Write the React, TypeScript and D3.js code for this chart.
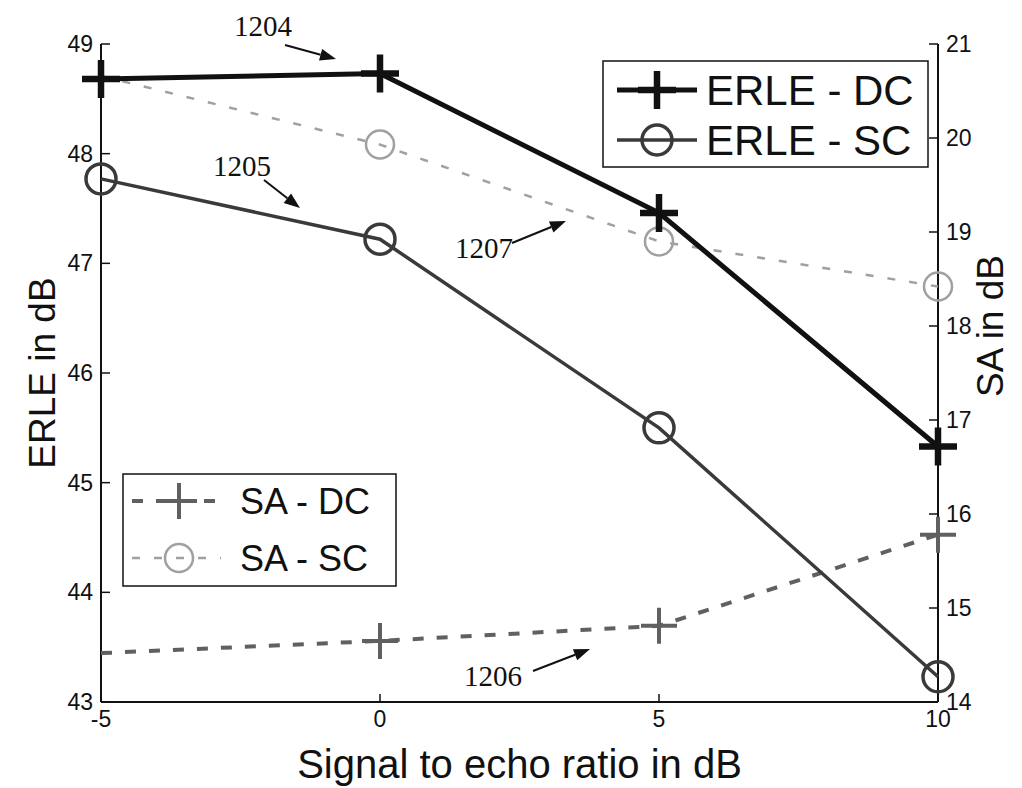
import React from 'react';
import * as d3 from 'd3';

// signal to echo ratio (dB)
const snr = [-5, 0, 5, 10];
// left axis series (ERLE, dB)
const erleDC = [48.68, 48.73, 47.46, 45.33];
const erleSC = [47.77, 47.22, 45.5, 43.23];
// right axis series (SA, dB)
const saDC = [14.52, 14.65, 14.81, 15.78];
const saSC = [20.66, 19.93, 18.9, 18.42];

const xTicks = [-5, 0, 5, 10];
const leftTicks = [43, 44, 45, 46, 47, 48, 49];
const rightTicks = [14, 15, 16, 17, 18, 19, 20, 21];

const W = 1022;
const H = 788;
const plot = { left: 101, right: 938, top: 44, bottom: 702 };

const x = d3.scaleLinear().domain([-5, 10]).range([plot.left, plot.right]);
const yL = d3.scaleLinear().domain([43, 49]).range([plot.bottom, plot.top]);
const yR = d3.scaleLinear().domain([14, 21]).range([plot.bottom, plot.top]);

const sans = "'Liberation Sans', Arial, Helvetica, sans-serif";
const serif = "'Liberation Serif', 'Times New Roman', serif";

type Series = {
  name: string;
  values: number[];
  y: d3.ScaleLinear<number, number>;
  color: string;
  width: number;
  dash?: string;
  marker: 'plus' | 'circle';
  mSize: number;
  mWidth: number;
  firstMarker: number;
};

const series: Series[] = [
  { name: 'SA - SC', values: saSC, y: yR, color: '#a0a0a0', width: 2.5, dash: '8 14', marker: 'circle', mSize: 14, mWidth: 2.5, firstMarker: 1 },
  { name: 'SA - DC', values: saDC, y: yR, color: '#606060', width: 4, dash: '11 13', marker: 'plus', mSize: 18, mWidth: 4, firstMarker: 1 },
  { name: 'ERLE - SC', values: erleSC, y: yL, color: '#3a3a3a', width: 3.5, marker: 'circle', mSize: 15, mWidth: 3.5, firstMarker: 0 },
  { name: 'ERLE - DC', values: erleDC, y: yL, color: '#111', width: 5, marker: 'plus', mSize: 19, mWidth: 6.5, firstMarker: 0 },
];

const Marker = ({ kind, cx, cy, size, color, width }: any) =>
  kind === 'plus' ? (
    <path
      d={`M${cx - size},${cy}H${cx + size}M${cx},${cy - size}V${cy + size}`}
      stroke={color}
      strokeWidth={width}
      fill="none"
    />
  ) : (
    <circle cx={cx} cy={cy} r={size} stroke={color} strokeWidth={width} fill="none" />
  );

const Arrow = ({ x1, y1, x2, y2 }: any) => {
  const a = Math.atan2(y2 - y1, x2 - x1);
  const len = 16;
  const half = 6;
  const bx = x2 - len * Math.cos(a);
  const by = y2 - len * Math.sin(a);
  const p1 = [bx + half * Math.sin(a), by - half * Math.cos(a)];
  const p2 = [bx - half * Math.sin(a), by + half * Math.cos(a)];
  return (
    <g>
      <line x1={x1} y1={y1} x2={bx} y2={by} stroke="#111" strokeWidth={2} />
      <path d={`M${x2},${y2}L${p1[0]},${p1[1]}L${p2[0]},${p2[1]}Z`} fill="#111" />
    </g>
  );
};

const annotations = [
  { label: '1204', tx: 263, ty: 26, x1: 285, y1: 45, x2: 336, y2: 59 },
  { label: '1205', tx: 242, ty: 166, x1: 264, y1: 180, x2: 300, y2: 208 },
  { label: '1207', tx: 484, ty: 248, x1: 512, y1: 243, x2: 566, y2: 221 },
  { label: '1206', tx: 493, ty: 676, x1: 533, y1: 671, x2: 590, y2: 649 },
];

export default function App() {
  const line = (s: Series) =>
    d3
      .line<number>()
      .x((_, i) => x(snr[i]))
      .y((v) => s.y(v))(s.values) as string;

  const leg1 = { x: 603, y: 61, w: 325, h: 106, rows: [90, 140] };
  const leg2 = { x: 123, y: 474, w: 273, h: 112, rows: [501, 558] };
  const erleSeries = [series[3], series[2]];
  const saSeries = [series[1], series[0]];

  return (
    <svg width={W} height={H} style={{ position: 'absolute', left: 0, top: 0, background: '#fff' }}>
      <rect width={W} height={H} fill="#fff" />

      {/* axes */}
      <g stroke="#111" strokeWidth={2} fill="none">
        <line x1={plot.left} y1={plot.top} x2={plot.left} y2={plot.bottom} />
        <line x1={plot.left} y1={plot.bottom} x2={plot.right} y2={plot.bottom} />
        <line x1={plot.right} y1={plot.top} x2={plot.right} y2={plot.bottom} />
        {leftTicks.map((t) => (
          <line key={'lt' + t} x1={plot.left} x2={plot.left + 9} y1={yL(t)} y2={yL(t)} strokeWidth={1.5} />
        ))}
        {rightTicks.map((t) => (
          <line key={'rt' + t} x1={plot.right - 9} x2={plot.right} y1={yR(t)} y2={yR(t)} strokeWidth={1.5} />
        ))}
        {xTicks.map((t) => (
          <line key={'xt' + t} x1={x(t)} x2={x(t)} y1={plot.bottom} y2={plot.bottom - 8} strokeWidth={1.5} />
        ))}
      </g>

      <g fontFamily={sans} fontSize={23} fill="#111">
        {leftTicks.map((t) => (
          <text key={'ll' + t} x={plot.left - 8} y={yL(t)} textAnchor="end" dominantBaseline="central">
            {t}
          </text>
        ))}
        {rightTicks.map((t) => (
          <text key={'rl' + t} x={plot.right + 8} y={yR(t)} dominantBaseline="central">
            {t}
          </text>
        ))}
        {xTicks.map((t) => (
          <text key={'xl' + t} x={x(t)} y={plot.bottom + 17} textAnchor="middle" dominantBaseline="central">
            {t}
          </text>
        ))}
      </g>

      {/* axis titles */}
      <text x={(plot.left + plot.right) / 2} y={778} fontFamily={sans} fontSize={40} textAnchor="middle" fill="#111">
        Signal to echo ratio in dB
      </text>
      <text transform={`translate(42,${(plot.top + plot.bottom) / 2}) rotate(-90)`} fontFamily={sans} fontSize={37} textAnchor="middle" dominantBaseline="central" fill="#111">
        ERLE in dB
      </text>
      <text transform={`translate(990,326) rotate(-90)`} fontFamily={sans} fontSize={37} textAnchor="middle" dominantBaseline="central" fill="#111">
        SA in dB
      </text>

      {/* series */}
      {series.map((s) => (
        <g key={s.name}>
          <path d={line(s)} fill="none" stroke={s.color} strokeWidth={s.width} strokeDasharray={s.dash} />
          {s.values.map((v, i) =>
            i >= s.firstMarker ? (
              <Marker key={i} kind={s.marker} cx={x(snr[i])} cy={s.y(v)} size={s.mSize} color={s.color} width={s.mWidth} />
            ) : null
          )}
        </g>
      ))}

      {/* legend ERLE */}
      <rect x={leg1.x} y={leg1.y} width={leg1.w} height={leg1.h} fill="#fff" stroke="#111" strokeWidth={1.5} />
      {erleSeries.map((s, i) => (
        <g key={'l1' + s.name}>
          <line x1={leg1.x + 14} x2={leg1.x + 94} y1={leg1.rows[i]} y2={leg1.rows[i]} stroke={s.color} strokeWidth={s.width} />
          <Marker kind={s.marker} cx={leg1.x + 54} cy={leg1.rows[i]} size={s.mSize} color={s.color} width={s.mWidth} />
          <text x={leg1.x + 103} y={leg1.rows[i]} fontFamily={sans} fontSize={42} dominantBaseline="central" fill="#111">
            {s.name}
          </text>
        </g>
      ))}

      {/* legend SA */}
      <rect x={leg2.x} y={leg2.y} width={leg2.w} height={leg2.h} fill="#fff" stroke="#111" strokeWidth={1.5} />
      {saSeries.map((s, i) => (
        <g key={'l2' + s.name}>
          <line x1={leg2.x + 9} x2={leg2.x + 98} y1={leg2.rows[i]} y2={leg2.rows[i]} stroke={s.color} strokeWidth={s.width} strokeDasharray={s.dash} />
          <Marker kind={s.marker} cx={leg2.x + 56} cy={leg2.rows[i]} size={s.mSize} color={s.color} width={s.mWidth} />
          <text x={leg2.x + 117} y={leg2.rows[i]} fontFamily={sans} fontSize={36} dominantBaseline="central" fill="#111">
            {s.name}
          </text>
        </g>
      ))}

      {/* reference numerals */}
      {annotations.map((a) => (
        <g key={a.label}>
          <text x={a.tx} y={a.ty} fontFamily={serif} fontSize={29} textAnchor="middle" dominantBaseline="central" fill="#111">
            {a.label}
          </text>
          <Arrow x1={a.x1} y1={a.y1} x2={a.x2} y2={a.y2} />
        </g>
      ))}
    </svg>
  );
}
